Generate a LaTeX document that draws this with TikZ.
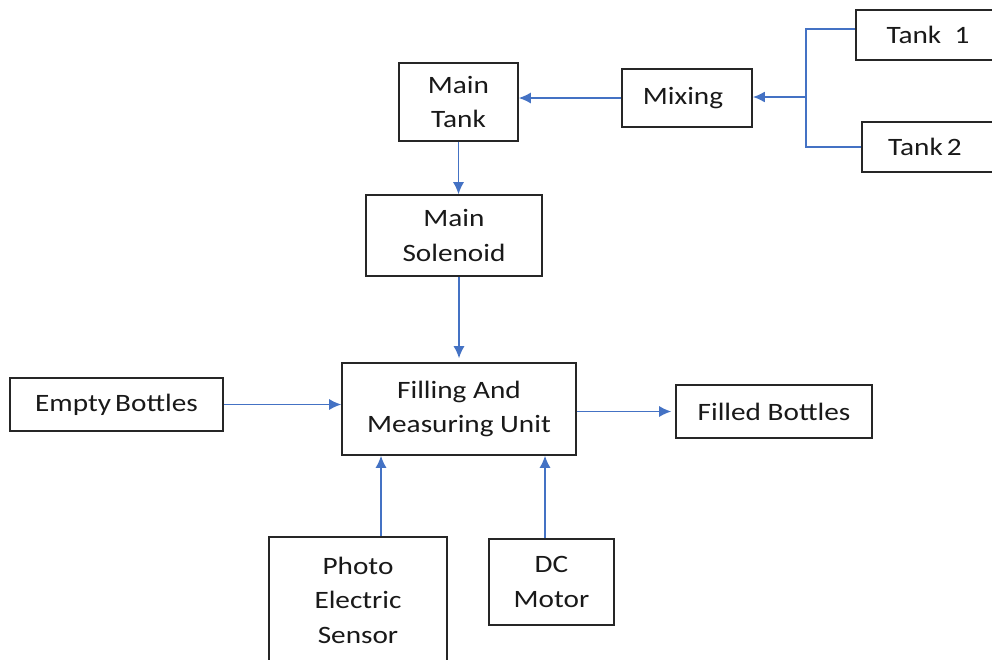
\documentclass[tikz,border=0pt]{standalone}
\usepackage{fontspec}
\setmainfont{Carlito}[FakeStretch=1.17]
\usetikzlibrary{arrows.meta}
\definecolor{lineblue}{HTML}{4472C4}
\definecolor{boxline}{HTML}{262626}
\begin{document}
\begin{tikzpicture}[x=1pt,y=-1pt,
  box/.style={draw=boxline, line width=1.6pt, align=center, inner sep=0pt,
    font=\fontsize{25}{34.5}\selectfont, text=black!90},
  conn/.style={draw=lineblue, line width=1.3pt, -{Latex[length=12pt,width=11pt]}},
  plain/.style={draw=lineblue, line width=1.3pt}]
\useasboundingbox (0,0) rectangle (992,659);
\fill[white] (0,0) rectangle (992,659);
\node[box, minimum width=144, minimum height=50] (t1) at (928,35) {Tank\ \ 1};
\node[box, minimum width=138, minimum height=50] (t2) at (931,147) {Tank\,2\hspace{12pt}};
\node[box, minimum width=130, minimum height=58] (mix) at (687,98) {Mixing\hspace{8pt}};
\node[box, minimum width=119, minimum height=78] (mt) at (458.5,102) {\raisebox{-3pt}{Main}\\\raisebox{-3pt}{Tank}};
\node[box, minimum width=176, minimum height=81] (sol) at (454,235.5) {Main\\Solenoid};
\node[box, minimum width=234, minimum height=92] (fill) at (459,409) {Filling And\\Measuring Unit};
\node[box, minimum width=213, minimum height=53] (emp) at (116.5,404.5) {Empty\,Bottles};
\node[box, minimum width=196, minimum height=53] (fb) at (774,411.5) {Filled Bottles};
\node[box, minimum width=178, minimum height=126] (ph) at (358,600) {Photo\\Electric\\Sensor};
\node[box, minimum width=125, minimum height=86] (dc) at (551.5,582) {DC\\Motor};
\coordinate (j) at (806,97);
\draw[plain] ([yshift=6pt]t1.west) -| (j);
\draw[plain] (t2.west) -| (j);
\draw[conn, line width=2pt] (j) -- (j -| mix.east);
\draw[conn] (mix.west) -- (mix.west -| mt.east);
\draw[conn] (mt.south) -- (mt.south |- sol.north);
\draw[conn, shorten >=4pt] (sol.south -| fill.north) -- (fill.north);
\draw[conn] (emp.east) -- (emp.east -| fill.west);
\draw[conn, shorten >=4pt] (fill.east |- fb.west) -- (fb.west);
\draw[conn] ([xshift=23pt]ph.north) -- ([xshift=23pt]ph.north |- fill.south);
\draw[conn] ([xshift=-6.5pt]dc.north) -- ([xshift=-6.5pt]dc.north |- fill.south);
\end{tikzpicture}
\end{document}
